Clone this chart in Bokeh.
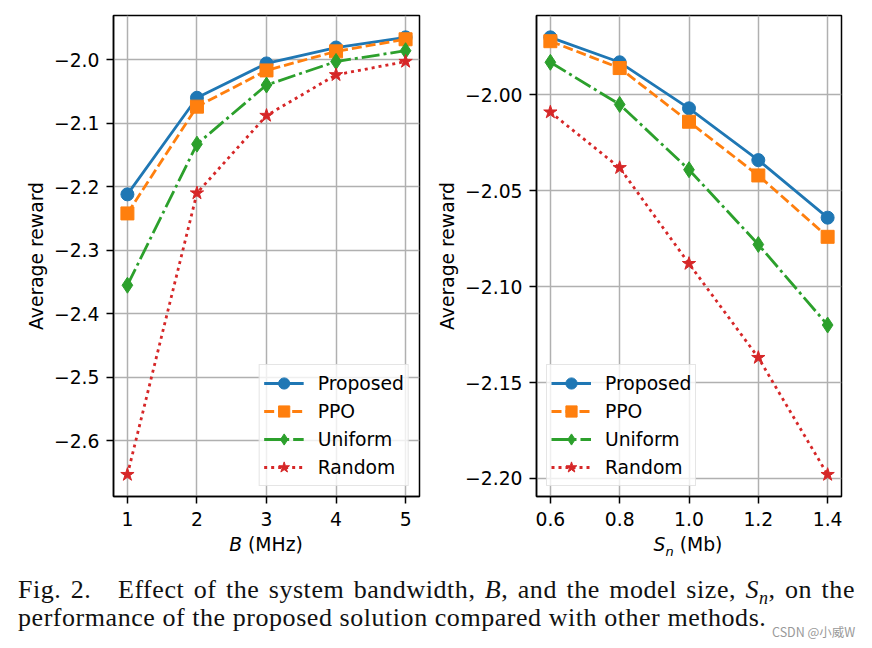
from bokeh.plotting import figure
from bokeh.models import (FixedTicker, CustomJSTickFormatter, Legend, LegendItem, Div)
from bokeh.layouts import row, column
from bokeh.embed import file_html
from bokeh.resources import INLINE

# ---------------- data ----------------
series_names = ["Proposed", "PPO", "Uniform", "Random"]

bandwidth = [1, 2, 3, 4, 5]
bw_proposed = [-2.212, -2.060, -2.006, -1.981, -1.965]
bw_ppo      = [-2.242, -2.074, -2.017, -1.987, -1.968]
bw_uniform  = [-2.355, -2.133, -2.040, -2.003, -1.986]
bw_random   = [-2.653, -2.210, -2.088, -2.024, -2.003]

model_size = [0.6, 0.8, 1.0, 1.2, 1.4]
ms_proposed = [-1.970, -1.983, -2.007, -2.034, -2.064]
ms_ppo      = [-1.972, -1.986, -2.014, -2.042, -2.074]
ms_uniform  = [-1.983, -2.005, -2.039, -2.078, -2.120]
ms_random   = [-2.009, -2.038, -2.088, -2.137, -2.198]

bw_yticks = [-2.6, -2.5, -2.4, -2.3, -2.2, -2.1, -2.0]
ms_yticks = [-2.20, -2.15, -2.10, -2.05, -2.00]

# ---------------- styles ----------------
COLORS = ["#1f77b4", "#ff7f0e", "#2ca02c", "#d62728"]
DASHES = ["solid", "10 4", "18 4 3 4", "3 4"]
MARKERS = ["circle", "square", "diamond", "star"]
MSIZES = [13, 13, 16, 14]
FONT = "DejaVu Sans"
FS = "18.75px"


def make_fig(xs, ys_list, xr, yr, yticks, ydec, xticks, xdec, width, bl, br,
             legend_loc):
    p = figure(width=width, height=533, x_range=xr, y_range=yr,
               output_backend="svg", toolbar_location=None,
               min_border_left=bl, min_border_right=br,
               min_border_top=15, min_border_bottom=37)
    p.outline_line_color = "black"
    p.outline_line_width = 1.5
    p.outline_line_alpha = 1.0
    p.background_fill_color = "white"
    p.border_fill_color = "white"

    p.yaxis.ticker = FixedTicker(ticks=yticks)
    p.xaxis.ticker = FixedTicker(ticks=xticks)
    p.yaxis.formatter = CustomJSTickFormatter(
        code="return (tick < 0 ? '\u2212' : '') + Math.abs(tick).toFixed(%d);" % ydec)
    p.xaxis.formatter = CustomJSTickFormatter(
        code="return (tick < 0 ? '\u2212' : '') + Math.abs(tick).toFixed(%d);" % xdec)

    for ax in (p.xaxis[0], p.yaxis[0]):
        ax.major_label_text_font = FONT
        ax.major_label_text_font_size = FS
        ax.major_label_text_color = "black"
        ax.axis_line_color = "black"
        ax.axis_line_width = 1.5
        ax.major_tick_line_color = "black"
        ax.major_tick_line_width = 1.5
        ax.major_tick_out = 7
        ax.major_tick_in = 0
        ax.minor_tick_out = 0
        ax.minor_tick_in = 0
        ax.axis_label_text_font = FONT
        ax.axis_label_text_font_size = FS
        ax.axis_label_text_font_style = "normal"
        ax.axis_label_text_color = "black"
    p.xaxis.major_label_standoff = 8
    p.yaxis.major_label_standoff = 7
    p.yaxis.axis_label = "Average reward"
    p.yaxis.axis_label_standoff = 4

    p.grid.grid_line_color = "#b0b0b0"
    p.grid.grid_line_width = 1.5

    items = []
    for name, ys, c, d, m, s in zip(series_names, ys_list, COLORS, DASHES,
                                    MARKERS, MSIZES):
        ln = p.line(xs, ys, line_color=c, line_width=2.8, line_dash=d)
        sc = p.scatter(xs, ys, marker=m, size=s, fill_color=c, line_color=c,
                       line_width=1)
        items.append(LegendItem(label=name, renderers=[ln, sc]))

    lg = Legend(items=items, location=legend_loc)
    lg.label_text_font = FONT
    lg.label_text_font_size = FS
    lg.label_text_color = "black"
    lg.glyph_width = 40
    lg.glyph_height = 28
    lg.label_height = 22
    lg.spacing = 0
    lg.padding = 4
    lg.margin = 10
    lg.label_standoff = 14
    lg.border_line_color = "#cccccc"
    lg.border_line_width = 1.5
    lg.background_fill_color = "white"
    lg.background_fill_alpha = 0.8
    p.add_layout(lg)
    return p


p1 = make_fig(bandwidth, [bw_proposed, bw_ppo, bw_uniform, bw_random],
              (0.8, 5.2), (-2.6874, -1.9306), bw_yticks, 1, bandwidth, 0,
              428, 113, 9, "bottom_right")
p2 = make_fig(model_size, [ms_proposed, ms_ppo, ms_uniform, ms_random],
              (0.56, 1.44), (-2.2094, -1.9586), ms_yticks, 2, model_size, 1,
              436, 108, 23, "bottom_left")

xlabels = Div(width=864, height=27, margin=0, text="""
<div style="position:relative;width:864px;height:27px;font-family:'DejaVu Sans',sans-serif;font-size:18.75px;line-height:22px;color:black;">
  <div style="position:absolute;left:266px;top:1px;transform:translateX(-50%);white-space:nowrap;"><i>B</i> (MHz)</div>
  <div style="position:absolute;left:688px;top:1px;transform:translateX(-50%);white-space:nowrap;"><i>S<sub style="font-size:13px;line-height:0;">n</sub></i> (Mb)</div>
</div>
""")

caption = Div(width=864, height=86, margin=0, text="""
<div style="position:relative;width:864px;height:86px;font-family:'Liberation Serif','Times New Roman',serif;font-size:26px;line-height:28px;color:#111;letter-spacing:0.55px;">
  <div style="position:absolute;left:18px;top:16px;width:837px;text-align:justify;text-align-last:justify;">Fig. 2.&emsp;Effect of the system bandwidth, <i>B</i>, and the model size, <i>S<sub style="font-size:18px;line-height:0;">n</sub></i>, on the</div>
  <div style="position:absolute;left:18px;top:44px;width:837px;text-align:left;">performance of the proposed solution compared with other methods.</div>
  <div style="position:absolute;left:772px;top:65px;font-family:'Noto Sans CJK SC','Noto Sans',sans-serif;font-size:12.5px;line-height:14px;letter-spacing:0;color:#999;">CSDN @小威W</div>
</div>
""")

layout = column(row(p1, p2), xlabels, caption)
open("out.html", "w").write(file_html(layout, INLINE))
